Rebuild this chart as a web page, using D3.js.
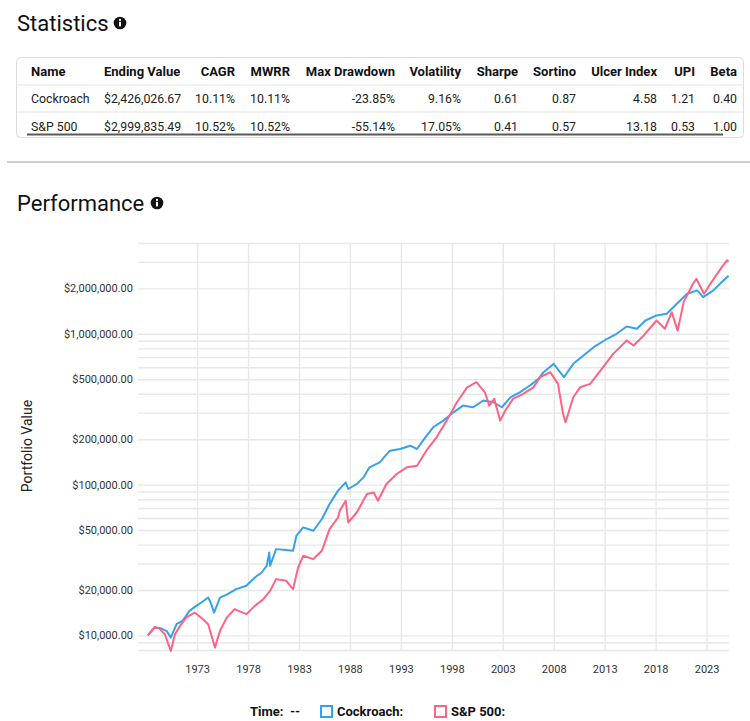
<!DOCTYPE html>
<html>
<head>
<meta charset="utf-8">
<script src="https://cdn.jsdelivr.net/npm/d3@7"></script>
<style>
  body { margin: 0; background: #fff; }
  svg { display: block; font-family: Roboto, "Open Sans", sans-serif; }
</style>
</head>
<body>
<svg id="page" width="750" height="721"></svg>
<script>
// statistics table
var statHeaders = ['Name', 'Ending Value', 'CAGR', 'MWRR', 'Max Drawdown', 'Volatility', 'Sharpe', 'Sortino', 'Ulcer Index', 'UPI', 'Beta'];
var statNames = ['Cockroach', 'S&P 500'];
var endingValues = ['$2,426,026.67', '$2,999,835.49'];
var cagr = ['10.11%', '10.52%'];
var mwrr = ['10.11%', '10.52%'];
var maxDrawdown = ['-23.85%', '-55.14%'];
var volatility = ['9.16%', '17.05%'];
var sharpe = ['0.61', '0.41'];
var sortino = ['0.87', '0.57'];
var ulcerIndex = ['4.58', '13.18'];
var upi = ['1.21', '0.53'];
var beta = ['0.40', '1.00'];

// performance series (month, portfolio value)
var cockroachDates = ['1968-03', '1968-11', '1969-05', '1970-01', '1970-06', '1971-01', '1971-08', '1972-04', '1972-12', '1973-06',
    '1974-02', '1974-05', '1974-09', '1975-04', '1976-01', '1976-11', '1977-11', '1978-09', '1979-05', '1979-11',
    '1980-02', '1980-03', '1980-10', '1981-10', '1982-06', '1982-10', '1983-06', '1984-06', '1985-04', '1986-01',
    '1986-11', '1987-08', '1987-11', '1988-09', '1989-05', '1989-12', '1990-12', '1991-12', '1992-12', '1993-12',
    '1994-08', '1995-03', '1996-03', '1997-03', '1998-03', '1999-02', '2000-02', '2001-02', '2002-02', '2002-12',
    '2003-10', '2004-09', '2005-09', '2006-07', '2007-01', '2008-01', '2009-01', '2009-12', '2010-12', '2011-12',
    '2013-04', '2014-03', '2015-03', '2016-03', '2017-01', '2018-02', '2019-02', '2020-02', '2021-02', '2022-02',
    '2022-09', '2023-09', '2024-07', '2025-03'];
var cockroachValues = [10000, 11270, 11210, 10710, 9670, 11920, 12480, 14540, 15700, 16520,
    17820, 16520, 14170, 17820, 18790, 20270, 21320, 24200, 26120, 28910,
    35480, 28910, 37330, 36810, 36390, 45800, 52000, 49430, 59130, 74300,
    91200, 103500, 93500, 100900, 111600, 130100, 140300, 167900, 172200, 181100,
    172200, 195700, 239900, 265600, 301400, 334000, 325700, 360600, 351600, 325700,
    379300, 409300, 453900, 502500, 556000, 632000, 515200, 632000, 717800, 815000,
    926800, 1000000, 1117000, 1079000, 1225000, 1324000, 1358000, 1582000, 1845000, 1940000,
    1750000, 1940000, 2203000, 2426027];

var spDates = ['1968-03', '1968-11', '1969-05', '1969-11', '1970-06', '1970-11', '1971-05', '1971-12', '1972-10', '1973-08',
    '1974-02', '1974-10', '1975-04', '1975-12', '1976-09', '1977-11', '1978-09', '1979-07', '1980-03', '1980-10',
    '1981-10', '1982-06', '1982-12', '1983-06', '1984-06', '1985-04', '1986-01', '1986-11', '1987-01', '1987-08',
    '1987-11', '1988-09', '1989-09', '1990-05', '1990-10', '1991-08', '1992-08', '1993-08', '1994-08', '1995-07',
    '1996-07', '1997-07', '1998-07', '1999-07', '2000-06', '2001-04', '2001-09', '2002-03', '2002-10', '2003-04',
    '2004-01', '2005-01', '2006-01', '2006-09', '2007-09', '2008-06', '2008-12', '2009-03', '2009-12', '2010-08',
    '2011-08', '2012-08', '2013-11', '2015-03', '2015-11', '2016-11', '2018-02', '2018-12', '2019-08', '2020-03',
    '2020-10', '2021-09', '2022-01', '2022-10', '2023-07', '2024-07', '2025-01', '2025-03'];
var spValues = [10000, 11390, 11040, 10180, 7890, 10180, 11560, 13130, 14170, 12810,
    11870, 8300, 10710, 13130, 14930, 13830, 15700, 17380, 19730, 23610,
    23010, 20270, 28190, 33730, 32060, 36390, 50700, 60530, 67100, 78200,
    56100, 65300, 86600, 88700, 78200, 100900, 117500, 130100, 133400, 167900,
    205700, 265600, 351600, 441600, 477300, 409300, 334000, 370000, 265600, 309700,
    370000, 399900, 441600, 515200, 556000, 465600, 294400, 258800, 379300, 441600,
    465600, 570300, 736200, 903600, 835600, 975000, 1225000, 1080000, 1390000, 1050000,
    1622000, 2148000, 2317000, 1845000, 2203000, 2767000, 3069000, 2999835];

var yearTicks = [1973, 1978, 1983, 1988, 1993, 1998, 2003, 2008, 2013, 2018, 2023];
var yLabelValues = [10000, 20000, 50000, 100000, 200000, 500000, 1000000, 2000000];

var svg = d3.select('#page');
svg.append('rect').attr('width', 750).attr('height', 721).attr('fill', '#fff');

function infoIcon(cx, cy) {
    svg.append('circle').attr('cx', cx).attr('cy', cy).attr('r', 6.3).attr('fill', '#111');
    svg.append('circle').attr('cx', cx).attr('cy', cy - 3.1).attr('r', 1.1).attr('fill', '#fff');
    svg.append('rect').attr('x', cx - 1).attr('y', cy - 1.2).attr('width', 2).attr('height', 4.6).attr('fill', '#fff');
}

// ---- Statistics ----
svg.append('text').attr('x', 17).attr('y', 31).attr('font-size', 22).attr('fill', '#111').text('Statistics');
infoIcon(120, 23);

svg.append('rect')
    .attr('x', 16.5).attr('y', 57.5).attr('width', 727).attr('height', 80)
    .attr('rx', 4).attr('fill', '#fff').attr('stroke', '#dcdcdc');

var colX = [31, 104, 235, 290, 395, 461, 518, 576, 657, 695, 737];
var colAnchor = ['start', 'start', 'end', 'end', 'end', 'end', 'end', 'end', 'end', 'end', 'end'];

svg.selectAll('text.head')
    .data(statHeaders)
    .enter()
    .append('text')
    .attr('class', 'head')
    .attr('x', function(d, i) { return colX[i]; })
    .attr('y', 75.5)
    .attr('text-anchor', function(d, i) { return colAnchor[i]; })
    .attr('font-size', 13)
    .attr('font-weight', 'bold')
    .attr('fill', '#111')
    .text(function(d) { return d; });

[85, 112].forEach(function(yy) {
    svg.append('line').attr('x1', 17).attr('x2', 743).attr('y1', yy).attr('y2', yy)
        .attr('stroke', '#e4e4e4').attr('stroke-width', 1);
});

var rows = statNames.map(function(n, i) {
    return [n, endingValues[i], cagr[i], mwrr[i], maxDrawdown[i], volatility[i],
        sharpe[i], sortino[i], ulcerIndex[i], upi[i], beta[i]];
});

rows.forEach(function(row, r) {
    svg.selectAll('text.row' + r)
        .data(row)
        .enter()
        .append('text')
        .attr('class', 'row' + r)
        .attr('x', function(d, i) { return colX[i]; })
        .attr('y', 102.5 + r * 28)
        .attr('text-anchor', function(d, i) { return colAnchor[i]; })
        .attr('font-size', 12.3)
        .attr('fill', '#222')
        .text(function(d) { return d; });
});

// scrollbar thumb under the table
svg.append('line').attr('x1', 27).attr('x2', 723).attr('y1', 134.5).attr('y2', 134.5)
    .attr('stroke', '#5a5a5a').attr('stroke-width', 2);

// section divider
svg.append('line').attr('x1', 7).attr('x2', 750).attr('y1', 162).attr('y2', 162)
    .attr('stroke', '#cfcfcf').attr('stroke-width', 2);

// ---- Performance ----
svg.append('text').attr('x', 17).attr('y', 211).attr('font-size', 22).attr('fill', '#111').text('Performance');
infoIcon(157, 203);

var plotLeft = 138, plotRight = 729, plotTop = 243, plotBottom = 650;
var parseMonth = d3.timeParse('%Y-%m');

var x = d3.scaleTime()
    .domain([new Date(1967, 2, 15), new Date(2025, 2, 15)])
    .range([plotLeft, plotRight]);

var y = d3.scaleLog()
    .domain([8000, 4000000])
    .range([plotBottom, plotTop]);

// grid values: every 1..9 step of each decade inside the domain
var gridValues = [];
[1000, 10000, 100000, 1000000].forEach(function(p) {
    for (var k = 1; k <= 9; k++) {
        var v = k * p;
        if (v >= 8000 && v <= 4000000) gridValues.push(v);
    }
});

var money = d3.format('$,.2f');

var yAxis = svg.append('g')
    .attr('transform', 'translate(' + plotLeft + ',0)')
    .call(d3.axisLeft(y)
        .tickValues(gridValues)
        .tickSize(-(plotRight - plotLeft))
        .tickPadding(5)
        .tickFormat(function(d) {
            return yLabelValues.indexOf(d) >= 0 ? money(d) : '';
        }));
yAxis.select('.domain').remove();
yAxis.selectAll('line').attr('stroke', '#e8e8e8').attr('stroke-width', 1.4);
yAxis.selectAll('text').attr('font-size', 11).attr('fill', '#333').attr('font-family', 'Roboto');

var xAxis = svg.append('g')
    .attr('transform', 'translate(0,' + plotBottom + ')')
    .call(d3.axisBottom(x)
        .tickValues(yearTicks.map(function(yr) { return new Date(yr, 0, 1); }))
        .tickSize(-(plotBottom - plotTop))
        .tickPadding(15)
        .tickFormat(d3.timeFormat('%Y')));
xAxis.select('.domain').remove();
xAxis.selectAll('line').attr('stroke', '#e8e8e8').attr('stroke-width', 1.4);
xAxis.selectAll('text').attr('font-size', 11).attr('fill', '#333').attr('font-family', 'Roboto');

svg.append('text')
    .attr('transform', 'translate(32,446) rotate(-90)')
    .attr('text-anchor', 'middle')
    .attr('font-size', 14)
    .attr('fill', '#222')
    .text('Portfolio Value');

var line = d3.line()
    .x(function(d) { return x(d.date); })
    .y(function(d) { return y(d.value); });

var series = [
    { name: 'Cockroach', color: '#36a2eb', dates: cockroachDates, values: cockroachValues },
    { name: 'S&P 500', color: '#ff6384', dates: spDates, values: spValues }
];

series.forEach(function(s) {
    var pts = s.dates.map(function(dt, i) {
        return { date: parseMonth(dt), value: s.values[i] };
    });
    svg.append('path')
        .datum(pts)
        .attr('d', line)
        .attr('fill', 'none')
        .attr('stroke', s.color)
        .attr('stroke-width', 2)
        .attr('stroke-linejoin', 'round');
});

// legend
svg.append('text').attr('x', 250).attr('y', 716).attr('font-size', 13).attr('font-weight', 'bold')
    .attr('fill', '#111').text('Time:');
svg.append('text').attr('x', 290).attr('y', 716).attr('font-size', 13).attr('font-weight', 'bold')
    .attr('fill', '#111').text('--');

var legendX = [321, 435];
series.forEach(function(s, i) {
    svg.append('rect')
        .attr('x', legendX[i]).attr('y', 706).attr('width', 11).attr('height', 11)
        .attr('fill', '#fff').attr('stroke', s.color).attr('stroke-width', 2);
    svg.append('text')
        .attr('x', legendX[i] + 16).attr('y', 716)
        .attr('font-size', 13).attr('font-weight', 'bold').attr('fill', '#111')
        .text(s.name + ':');
});
</script>
</body>
</html>
